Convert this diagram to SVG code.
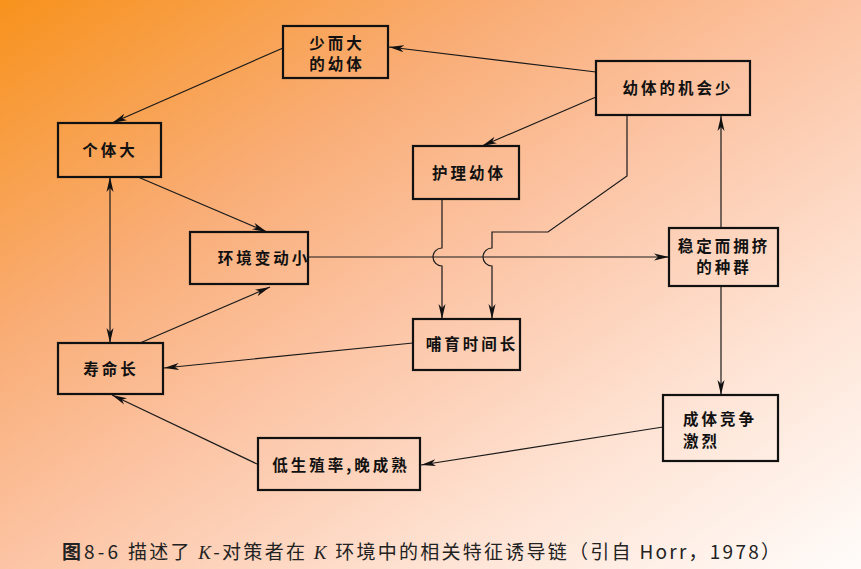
<svg xmlns="http://www.w3.org/2000/svg" width="861" height="569" viewBox="0 0 861 569">
<defs>
<linearGradient id="bg" x1="0" y1="0" x2="1" y2="1">
<stop offset="0" stop-color="#f7921c"/>
<stop offset="0.3" stop-color="#f9ad76"/>
<stop offset="0.5" stop-color="#fcc4a4"/>
<stop offset="0.75" stop-color="#fee3d4"/>
<stop offset="1" stop-color="#fffcfa"/>
</linearGradient>
<marker id="ah" markerUnits="userSpaceOnUse" viewBox="0 0 15 8" refX="15" refY="4" markerWidth="15" markerHeight="8" orient="auto-start-reverse">
<path d="M0,0.5 L15,4 L0,7.5 L4,4 Z" fill="#111"/>
</marker>
<style>
.box{fill:none;stroke:#111;stroke-width:2.2}
.lbl{font-family:"Noto Sans CJK SC","Noto Sans",sans-serif;font-size:15.5px;font-weight:bold;fill:#111;letter-spacing:3px}
.c{text-anchor:middle}
.ln{fill:none;stroke:#1a1a1a;stroke-width:1.2}
.ar{marker-end:url(#ah)}
.cap{font-family:"Noto Sans CJK SC","Liberation Sans",sans-serif;font-size:19px;fill:#222}
.k{font-family:"Liberation Serif",serif;font-style:italic}
</style>
</defs>
<rect x="0" y="0" width="861" height="569" fill="url(#bg)"/>

<g id="connectors">
<path class="ln ar" d="M596,72 L389,47"/>
<path class="ln ar" d="M596,97 L482,146"/>
<path class="ln ar" d="M283,48 L112,123"/>
<path class="ln ar" d="M138,177 L267,232"/>
<path class="ln ar" d="M110,177 L110,343" marker-start="url(#ah)"/>
<path class="ln ar" d="M140,343 L270,287"/>
<path class="ln ar" d="M308,257 L669,257"/>
<path class="ln ar" d="M442,199 L442,248 A9,9 0 0 0 442,266 L442,319"/>
<path class="ln ar" d="M627,116 L627,176 L548,232 L492,232 L492,248 A9,9 0 0 0 492,266 L492,319"/>
<path class="ln ar" d="M721,228 L721,116"/>
<path class="ln ar" d="M721,286 L721,395"/>
<path class="ln ar" d="M663,427 L421,465"/>
<path class="ln ar" d="M257,464 L112,395"/>
<path class="ln ar" d="M413,343 L164,368"/>
</g>

<g id="n-shaoerda">
<rect class="box" x="283" y="26" width="105" height="52"/>
<text class="lbl c" x="337" y="49">少而大</text>
<text class="lbl c" x="337" y="70">的幼体</text>
</g>
<g id="n-youtijihui">
<rect class="box" x="596" y="61" width="154" height="54"/>
<text class="lbl c" x="678" y="94">幼体的机会少</text>
</g>
<g id="n-getida">
<rect class="box" x="58" y="123" width="103" height="54"/>
<text class="lbl c" x="110" y="156">个体大</text>
</g>
<g id="n-hulixyouti">
<rect class="box" x="413" y="146" width="106" height="53"/>
<text class="lbl c" x="469" y="179">护理幼体</text>
</g>
<g id="n-huanjing">
<rect class="box" x="190" y="232" width="118" height="52"/>
<text class="lbl c" x="264" y="264">环境变动小</text>
</g>
<g id="n-wending">
<rect class="box" x="669" y="228" width="109" height="58"/>
<text class="lbl c" x="724" y="252">稳定而拥挤</text>
<text class="lbl c" x="724" y="273">的种群</text>
</g>
<g id="n-buyu">
<rect class="box" x="413" y="319" width="107" height="51"/>
<text class="lbl c" x="472" y="350">哺育时间长</text>
</g>
<g id="n-shouming">
<rect class="box" x="58" y="343" width="105" height="51"/>
<text class="lbl c" x="111" y="375">寿命长</text>
</g>
<g id="n-chengti">
<rect class="box" x="663" y="395" width="115" height="66"/>
<text class="lbl" x="683" y="425">成体竞争</text>
<text class="lbl" x="683" y="447">激烈</text>
</g>
<g id="n-disheng">
<rect class="box" x="258" y="438" width="162" height="52"/>
<text class="lbl c" x="341" y="471" letter-spacing="1">低生殖率,晚成熟</text>
</g>

<g id="caption">
<text class="cap" x="62" y="559" textLength="56" lengthAdjust="spacing"><tspan font-weight="bold">图</tspan>8-6</text>
<text class="cap" x="128" y="559" textLength="652" lengthAdjust="spacing">描述了 <tspan class="k">K</tspan>-对策者在 <tspan class="k">K</tspan> 环境中的相关特征诱导链（引自 Horr，1978）</text>
</g>
</svg>
